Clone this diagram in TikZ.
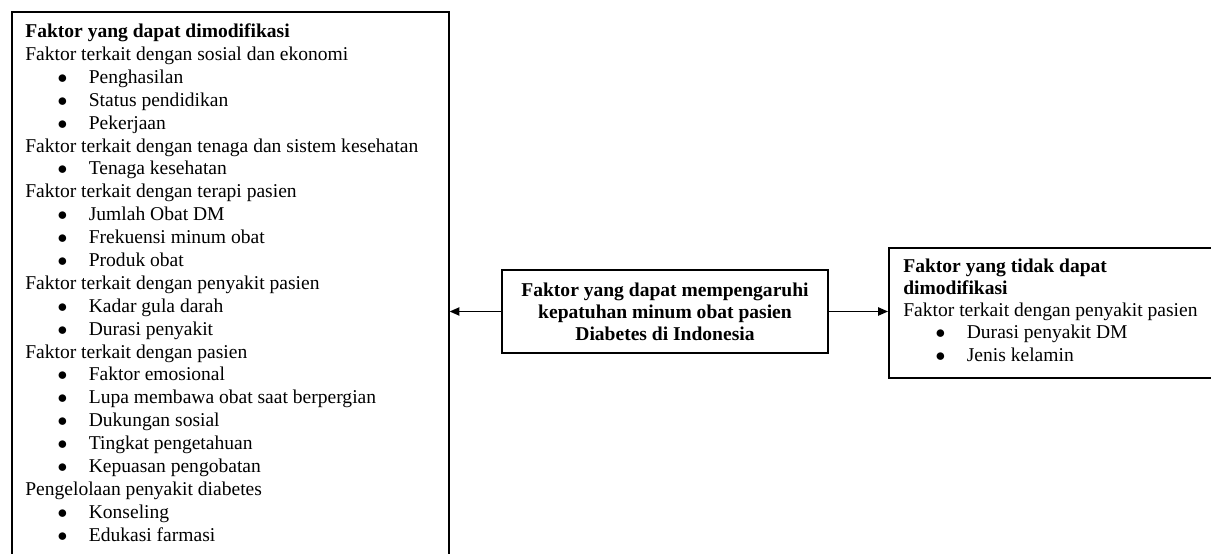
\documentclass[tikz,border=0pt]{standalone}
\usepackage{fontspec}
\setmainfont{Liberation Serif}
\usetikzlibrary{arrows.meta}
\newcommand{\butir}[1]{\hspace*{19.8pt}\makebox[19.2pt][l]{$\bullet$}#1}
\begin{document}
\begin{tikzpicture}
	[x=0.614pt, y=-0.614pt, font=\fontsize{12}{13.4}\selectfont,
	kotak/.style={draw, line width=1pt, inner sep=0pt},
	teks/.style={anchor=north west, align=left, inner sep=0pt},
	panah/.style={-{Triangle[length=6pt,width=5pt]}, line width=1pt}]
	\clip (0,0) rectangle (1211,554);
	\node[kotak, anchor=north west, minimum width=268.3pt, minimum height=346pt] (modif) at (11,11) {};
	\node[teks, font=\fontsize{12}{14.05}\selectfont] (modifteks) at (25,23.6) {\textbf{Faktor yang dapat dimodifikasi}\\
		Faktor terkait dengan sosial dan ekonomi\\
		\butir{Penghasilan}\\
		\butir{Status pendidikan}\\
		\butir{Pekerjaan}\\
		Faktor terkait dengan tenaga dan sistem kesehatan\\
		\butir{Tenaga kesehatan}\\
		Faktor terkait dengan terapi pasien\\
		\butir{Jumlah Obat DM}\\
		\butir{Frekuensi minum obat}\\
		\butir{Produk obat}\\
		Faktor terkait dengan penyakit pasien\\
		\butir{Kadar gula darah}\\
		\butir{Durasi penyakit}\\
		Faktor terkait dengan pasien\\
		\butir{Faktor emosional}\\
		\butir{Lupa membawa obat saat berpergian}\\
		\butir{Dukungan sosial}\\
		\butir{Tingkat pengetahuan}\\
		\butir{Kepuasan pengobatan}\\
		Pengelolaan penyakit diabetes\\
		\butir{Konseling}\\
		\butir{Edukasi farmasi}};
	\node[kotak, minimum width=200.2pt, minimum height=51pt, align=center, font=\fontsize{12}{13.4}\selectfont\bfseries] (pusat) at (665,311.5) {Faktor yang dapat mempengaruhi\\kepatuhan minum obat pasien\\Diabetes di Indonesia};
	\node[kotak, anchor=north west, minimum width=210pt, minimum height=79.8pt] (tidak) at (888,247) {};
	\node[teks, font=\fontsize{12}{13.6}\selectfont] (tidakteks) at (903,258.6) {\textbf{Faktor yang tidak dapat}\\
		\textbf{dimodifikasi}\\
		Faktor terkait dengan penyakit pasien\\
		\butir{Durasi penyakit DM}\\
		\butir{Jenis kelamin}};
	\draw[panah] (pusat.west) -- (modif.east |- pusat.west);
	\draw[panah] (pusat.east) -- (tidak.west |- pusat.east);
\end{tikzpicture}
\end{document}
